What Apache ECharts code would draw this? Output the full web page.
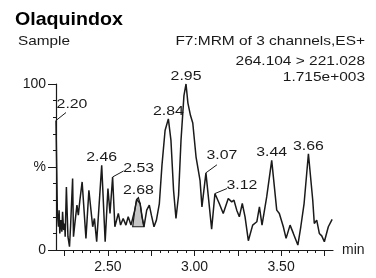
<!DOCTYPE html>
<html>
<head>
<meta charset="utf-8">
<script src="https://cdn.jsdelivr.net/npm/echarts@6/dist/echarts.min.js"></script>
<style>
html,body{margin:0;padding:0;background:#fff;}
#chart{width:376px;height:278px;}
</style>
</head>
<body>
<div id="chart"></div>
<script>
// ---- data ----
const titleText = 'Olaquindox';
const sampleText = 'Sample';
const infoLines = ['F7:MRM of 3 channels,ES+', '264.104 > 221.028', '1.715e+003'];

const times = [
  2.200, 2.208, 2.214, 2.218, 2.222, 2.228, 2.234, 2.238, 2.244, 2.250,
  2.253, 2.260, 2.269, 2.278, 2.284, 2.296, 2.301, 2.309, 2.321, 2.329,
  2.338, 2.351, 2.373, 2.390, 2.412, 2.422, 2.435, 2.464, 2.484, 2.500,
  2.512, 2.527, 2.540, 2.560, 2.573, 2.588, 2.604, 2.617, 2.633, 2.643,
  2.655, 2.666, 2.676, 2.686, 2.697, 2.708, 2.724, 2.739, 2.751, 2.766,
  2.780, 2.797, 2.812, 2.830, 2.849, 2.864, 2.879, 2.893, 2.908, 2.922,
  2.939, 2.951, 2.962, 2.977, 2.990, 3.009, 3.032, 3.043, 3.066, 3.082,
  3.099, 3.118, 3.143, 3.166, 3.195, 3.215, 3.228, 3.244, 3.259, 3.276,
  3.292, 3.311, 3.336, 3.360, 3.375, 3.390, 3.417, 3.446, 3.475, 3.490,
  3.513, 3.529, 3.552, 3.571, 3.597, 3.614, 3.633, 3.658, 3.683, 3.692,
  3.706, 3.721, 3.735, 3.750, 3.773, 3.795
];
const intensity = [
  78, 22, 14, 24, 10, 18, 11, 23, 12, 16,
  8, 38, 8, 2, 14, 43, 8, 16, 27, 21,
  30, 41, 7, 36, 14, 19, 5, 51, 5, 37,
  22, 44, 14, 22, 15, 19, 15, 20, 15, 14,
  24, 30.5, 31.5, 28, 20, 14, 24, 27, 21, 14,
  18, 28, 51, 72, 79, 66, 36, 19, 33, 66,
  93, 100, 88.5, 81, 76.5, 56, 42, 26, 46.5, 30,
  12.5, 34, 28, 22, 31, 29, 30, 24, 20, 28,
  20, 5.6, 15, 17, 26, 15, 32, 54, 24, 22,
  14, 7, 15, 10, 3, 14, 28, 58, 30, 16,
  18, 10, 8.5, 5, 14, 18.5
];

// integrated (shaded) peak
const shadedStart = 2.643;
const shadedEnd = 2.708;

// labelled peaks
const peakLabels = ['2.20', '2.46', '2.53', '2.68', '2.84', '2.95', '3.07', '3.12', '3.44', '3.66'];

// axes
const xMin = 2.20, xMax = 3.80;
const xLabelValues = [2.50, 3.00, 3.50];
const xMajorTicks = [2.25, 2.50, 2.75, 3.00, 3.25, 3.50, 3.75];
const xMinorTicks = [2.25, 2.30, 2.35, 2.40, 2.45, 2.50, 2.55, 2.60, 2.65, 2.70, 2.75,
  2.80, 2.85, 2.90, 2.95, 3.00, 3.05, 3.10, 3.15, 3.20, 3.25, 3.30, 3.35, 3.40, 3.45,
  3.50, 3.55, 3.60, 3.65, 3.70, 3.75];
const yLabelMap = {0: '0', 50: '%', 100: '100'};
const xAxisName = 'min';

// ---- styling ----
const FONT = '"Liberation Sans", Arial, Helvetica, sans-serif';
const INK = '#1a1a1a';
const TXT_SX = 1.2;
// label placement offsets in pixels: lead = end of leader line, text = [dx centre, dy bottom]
const labelOffsets = {
  '2.20': {lead: [10, -8], text: [16, -10]},
  '2.53': {lead: [11, -6], text: [26, -2]},
  '3.07': {lead: [11, -8], text: [16, -11]},
  '3.12': {lead: [12, -5], text: [27, -2]}
};

const chart = echarts.init(document.getElementById('chart'), null, {renderer: 'canvas'});
const traceData = times.map((t, i) => [t, intensity[i]]);
const shadedData = traceData.filter(p => p[0] >= shadedStart - 1e-9 && p[0] <= shadedEnd + 1e-9);

chart.setOption({
  animation: false,
  grid: {left: 56, right: 43, top: 84, bottom: 28},
  xAxis: [{
    type: 'value', min: xMin, max: xMax,
    axisLine: {show: true, onZero: false, lineStyle: {color: INK, width: 1.2}},
    axisTick: {show: true, customValues: xMinorTicks, length: 3, lineStyle: {color: INK, width: 1}},
    axisLabel: {show: false},
    splitLine: {show: false},
    name: xAxisName, nameLocation: 'end', nameGap: 9,
    nameTextStyle: {fontFamily: FONT, fontSize: 14, color: INK, verticalAlign: 'middle'}
  }, {
    type: 'value', min: xMin, max: xMax, position: 'bottom',
    axisLine: {show: false},
    axisTick: {show: true, customValues: xMajorTicks, length: 6, lineStyle: {color: INK, width: 1}},
    axisLabel: {show: true, customValues: xLabelValues, margin: 10, fontFamily: FONT, fontSize: 14, color: INK,
      formatter: v => v.toFixed(2)},
    splitLine: {show: false}
  }],
  yAxis: [{
    type: 'value', min: 0, max: 100, interval: 10,
    axisLine: {show: true, onZero: false, lineStyle: {color: INK, width: 1.2}},
    axisTick: {show: true, length: 3, lineStyle: {color: INK, width: 1}},
    axisLabel: {show: false},
    splitLine: {show: false}
  }, {
    type: 'value', min: 0, max: 100, interval: 50, position: 'left', offset: 0,
    axisLine: {show: false},
    axisTick: {show: true, length: 8, lineStyle: {color: INK, width: 1}},
    axisLabel: {show: true, margin: 10, fontFamily: FONT, fontSize: 14, color: INK,
      formatter: v => (yLabelMap[v] !== undefined ? yLabelMap[v] : '')},
    splitLine: {show: false}
  }],
  series: [{
    type: 'custom',
    xAxisIndex: 0, yAxisIndex: 0,
    z: 1,
    data: shadedData,
    renderItem: function (params, api) {
      if (params.dataIndex !== 0) return null;
      const pts = shadedData.map(p => api.coord(p));
      return {
        type: 'polygon',
        shape: {points: pts},
        style: {fill: '#c6c6c6', stroke: INK, lineWidth: 1.2}
      };
    }
  }, {
    type: 'line',
    xAxisIndex: 0, yAxisIndex: 0,
    z: 2,
    data: traceData,
    showSymbol: false,
    symbol: 'none',
    lineStyle: {color: INK, width: 1.5},
    silent: true
  }]
});

// ---- texts & peak labels via the chart's own coordinate conversion ----
const graphics = [];
function addText(txt, x, y, opts) {
  graphics.push({
    type: 'text', x: x, y: y, scaleX: opts.sx || TXT_SX, z: 100,
    style: {text: txt, fontFamily: FONT, fontSize: opts.size || 13, fontWeight: opts.weight || 'normal',
      fill: opts.color || INK, align: opts.align || 'left', verticalAlign: opts.valign || 'middle'}
  });
}
addText(titleText, 15, 20, {size: 18.5, weight: 'bold', sx: 1.06, color: '#000'});
addText(sampleText, 18, 41, {size: 13, sx: 1.18});
addText(infoLines[0], 365, 41, {size: 13, sx: 1.19, align: 'right'});
addText(infoLines[1], 365, 61, {size: 13, sx: 1.19, align: 'right'});
addText(infoLines[2], 365, 77.5, {size: 13, sx: 1.19, align: 'right'});

peakLabels.forEach(lbl => {
  const t = parseFloat(lbl);
  let best = 0;
  for (let i = 1; i < times.length; i++) {
    if (Math.abs(times[i] - t) < Math.abs(times[best] - t) ||
        (Math.abs(times[i] - t) <= 0.012 && intensity[i] > intensity[best] && Math.abs(times[best] - t) <= 0.012)) best = i;
  }
  const p = chart.convertToPixel({xAxisIndex: 0, yAxisIndex: 0}, [times[best], intensity[best]]);
  const off = labelOffsets[lbl];
  if (off) {
    graphics.push({
      type: 'line', z: 99,
      shape: {x1: p[0], y1: p[1], x2: p[0] + off.lead[0], y2: p[1] + off.lead[1]},
      style: {stroke: INK, lineWidth: 1}
    });
    addText(lbl, p[0] + off.text[0], p[1] + off.text[1], {size: 13, sx: 1.22, align: 'center', valign: 'bottom'});
  } else {
    addText(lbl, p[0], p[1] - 1, {size: 13, sx: 1.22, align: 'center', valign: 'bottom'});
  }
});

chart.setOption({graphic: graphics});
</script>
</body>
</html>
